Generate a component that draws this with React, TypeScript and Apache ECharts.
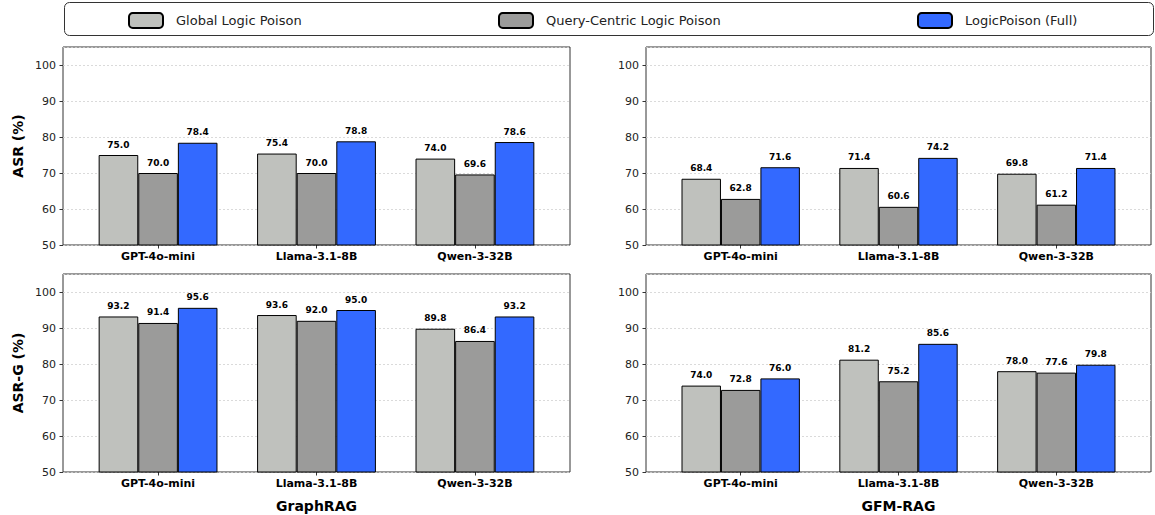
import React, { useEffect, useRef } from "react";
import * as echarts from "echarts";

const categories = ["GPT-4o-mini", "Llama-3.1-8B", "Qwen-3-32B"];
const seriesNames = ["Global Logic Poison", "Query-Centric Logic Poison", "LogicPoison (Full)"];
const colors = ["#bfc1bd", "#9b9b9a", "#3369ff"];

// ASR (%) — GraphRAG
const asrGraphRAG_global = [75.0, 75.4, 74.0];
const asrGraphRAG_query = [70.0, 70.0, 69.6];
const asrGraphRAG_full = [78.4, 78.8, 78.6];
// ASR (%) — GFM-RAG
const asrGFM_global = [68.4, 71.4, 69.8];
const asrGFM_query = [62.8, 60.6, 61.2];
const asrGFM_full = [71.6, 74.2, 71.4];
// ASR-G (%) — GraphRAG
const asrgGraphRAG_global = [93.2, 93.6, 89.8];
const asrgGraphRAG_query = [91.4, 92.0, 86.4];
const asrgGraphRAG_full = [95.6, 95.0, 93.2];
// ASR-G (%) — GFM-RAG
const asrgGFM_global = [74.0, 81.2, 78.0];
const asrgGFM_query = [72.8, 75.2, 77.6];
const asrgGFM_full = [76.0, 85.6, 79.8];

const yTicks = [50, 60, 70, 80, 90, 100];
const yMin = 50;
const yMax = 105;

const FONT = "DejaVu Sans";

export default function App() {
  const ref = useRef<HTMLDivElement>(null);

  useEffect(() => {
    if (!ref.current) return;
    const chart = echarts.init(ref.current, undefined, { renderer: "svg" });

    const panels = [
      { left: 63, top: 47, w: 507, h: 198, data: [asrGraphRAG_global, asrGraphRAG_query, asrGraphRAG_full] },
      { left: 646, top: 47, w: 505, h: 198, data: [asrGFM_global, asrGFM_query, asrGFM_full] },
      { left: 63, top: 274, w: 507, h: 198, data: [asrgGraphRAG_global, asrgGraphRAG_query, asrgGraphRAG_full] },
      { left: 646, top: 274, w: 505, h: 198, data: [asrgGFM_global, asrgGFM_query, asrgGFM_full] },
    ];

    const grid: any[] = [];
    const xAxis: any[] = [];
    const yAxis: any[] = [];
    const series: any[] = [];

    panels.forEach((p, i) => {
      const unit = p.w / 3.2;
      // frame grid
      grid.push({
        left: p.left, top: p.top, width: p.w, height: p.h,
        show: true, borderColor: "#333", borderWidth: 1, backgroundColor: "transparent",
      });
      xAxis.push({ type: "value", gridIndex: 2 * i, show: false, min: 0, max: 1 });
      yAxis.push({
        type: "value", gridIndex: 2 * i, min: yMin, max: yMax, interval: 10,
        axisLine: { show: false },
        axisTick: { show: true, length: 3.5, lineStyle: { color: "#333" } },
        axisLabel: {
          fontFamily: FONT, fontSize: 11, color: "#222", margin: 7,
          showMaxLabel: false,
          formatter: (v: number) => (yTicks.includes(v) ? String(v) : ""),
        },
        splitLine: { show: true, lineStyle: { color: "#d0d0d0", type: [2, 2], width: 0.8 } },
      });
      // bars grid
      grid.push({ left: p.left + 0.1 * unit, top: p.top, width: 3 * unit, height: p.h });
      xAxis.push({
        type: "category", gridIndex: 2 * i + 1, data: categories,
        axisLine: { show: false },
        axisTick: { show: true, alignWithLabel: true, length: 3.5, lineStyle: { color: "#333" } },
        axisLabel: { fontFamily: FONT, fontSize: 11, fontWeight: "bold", color: "#000", margin: 6 },
      });
      yAxis.push({ type: "value", gridIndex: 2 * i + 1, min: yMin, max: yMax, show: false, splitLine: { show: false } });

      p.data.forEach((vals, s) => {
        series.push({
          type: "bar",
          name: seriesNames[s],
          xAxisIndex: 2 * i + 1,
          yAxisIndex: 2 * i + 1,
          data: vals,
          barWidth: 0.25 * unit,
          barGap: "0%",
          itemStyle: { color: colors[s], borderColor: "#000", borderWidth: 1 },
          label: {
            show: true, position: "top", distance: 6,
            fontFamily: FONT, fontSize: 9, fontWeight: "bold", color: "#000",
            formatter: (pp: any) => Number(pp.value).toFixed(1),
          },
        });
      });
    });

    const legendLefts = [128, 498, 917];
    const legend = seriesNames.map((n, k) => ({
      data: [n],
      left: legendLefts[k],
      top: 12,
      itemWidth: 34,
      itemHeight: 15,
      itemGap: 0,
      padding: 0,
      textStyle: { fontFamily: FONT, fontSize: 13, color: "#222", padding: [0, 0, 0, 8] },
    }));

    chart.setOption({
      animation: false,
      backgroundColor: "#fff",
      textStyle: { fontFamily: FONT },
      legend,
      grid,
      xAxis,
      yAxis,
      series,
      graphic: [
        {
          type: "rect", left: 64, top: 2, z: -1,
          shape: { width: 1089, height: 33, r: 5 },
          style: { fill: "#fff", stroke: "#333", lineWidth: 1 },
        },
        {
          type: "text", x: 18, y: 146, rotation: Math.PI / 2,
          style: { text: "ASR (%)", font: `bold 14px ${FONT}`, fill: "#000", align: "center", verticalAlign: "middle" },
        },
        {
          type: "text", x: 18, y: 373, rotation: Math.PI / 2,
          style: { text: "ASR-G (%)", font: `bold 14px ${FONT}`, fill: "#000", align: "center", verticalAlign: "middle" },
        },
        {
          type: "text", x: 316.5, y: 506,
          style: { text: "GraphRAG", font: `bold 14px ${FONT}`, fill: "#000", align: "center", verticalAlign: "middle" },
        },
        {
          type: "text", x: 898.5, y: 506,
          style: { text: "GFM-RAG", font: `bold 14px ${FONT}`, fill: "#000", align: "center", verticalAlign: "middle" },
        },
      ],
    });

    return () => chart.dispose();
  }, []);

  return <div ref={ref} style={{ position: "fixed", left: 0, top: 0, width: 1155, height: 515 }} />;
}
